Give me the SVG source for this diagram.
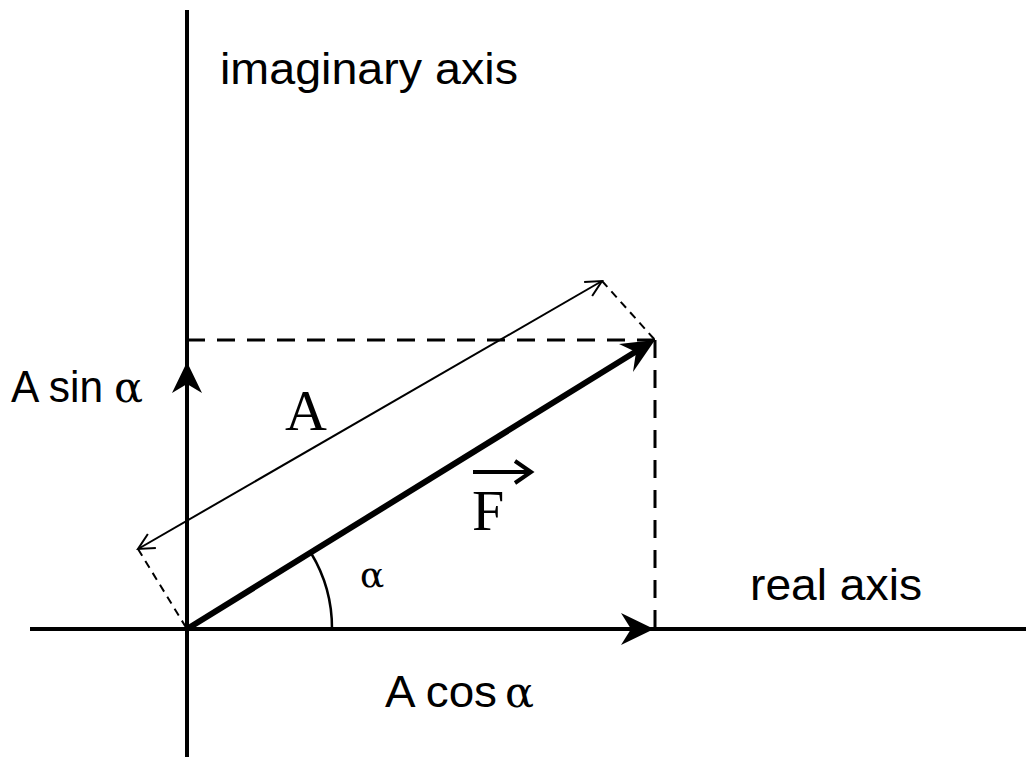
<svg xmlns="http://www.w3.org/2000/svg" width="1026" height="757" viewBox="0 0 1026 757">
<style>
.ax{stroke:#000;stroke-width:4;fill:none}
.dash{stroke:#000;stroke-width:3;stroke-dasharray:18,12;fill:none}
.thin{stroke:#000;stroke-width:2;fill:none}
.tdash{stroke:#000;stroke-width:2;stroke-dasharray:8,6;fill:none}
.sans{font-family:"Liberation Sans",Arial,sans-serif;font-size:45px;fill:#000}
.serif{font-family:"Liberation Serif","Times New Roman",serif;fill:#000}
.alpha{font-family:"DejaVu Serif",serif;fill:#000;font-size:43px}
</style>
<defs>
<marker id="open" viewBox="0 0 20 20" refX="18" refY="10" markerWidth="20" markerHeight="20" markerUnits="userSpaceOnUse" orient="auto-start-reverse">
<path d="M2,2 L18,10 L2,18" fill="none" stroke="#000" stroke-width="2"/>
</marker>
</defs>
<g id="axes">
<line class="ax" x1="187" y1="10" x2="187" y2="757"/>
<line class="ax" x1="30" y1="629" x2="1026" y2="629"/>
<path d="M187,362 L202,393 L187,384 L172,393 Z" fill="#000"/>
<path d="M654,629 L621,613 L631,629 L621,645 Z" fill="#000"/>
</g>
<g id="connectors">
<line class="dash" x1="187" y1="340" x2="655" y2="340"/>
<line class="dash" x1="655" y1="340" x2="655" y2="629"/>
<line class="tdash" x1="602" y1="281" x2="655" y2="340"/>
<line class="tdash" x1="138" y1="549" x2="187" y2="629"/>
<line class="thin" x1="138" y1="549" x2="602" y2="281" marker-start="url(#open)" marker-end="url(#open)"/>
<path d="M332,629 A145,145 0 0 0 311,553" class="thin" style="stroke-width:2.5"/>
</g>
<g id="vectorF">
<line x1="187" y1="629" x2="640" y2="349" stroke="#000" stroke-width="6"/>
<path d="M655,340 L619,344 L636,352 L633,372 Z" fill="#000"/>
</g>
<g id="labels">
<text class="sans" x="220" y="84" textLength="298" lengthAdjust="spacingAndGlyphs">imaginary axis</text>
<text class="sans" x="750" y="600" textLength="172" lengthAdjust="spacingAndGlyphs">real axis</text>
<text class="sans" x="11" y="402" textLength="92" lengthAdjust="spacingAndGlyphs">A sin</text>
<text class="alpha" x="114" y="402">α</text>
<text class="sans" x="385" y="707" textLength="112" lengthAdjust="spacingAndGlyphs">A cos</text>
<text class="alpha" x="505" y="707">α</text>
<text class="serif" x="285" y="430" font-size="58">A</text>
<text class="serif" x="472" y="530" font-size="58">F</text>
<path d="M473,472 L528,472 M515,461 L531,472 L515,483" fill="none" stroke="#000" stroke-width="4"/>
<text class="alpha" x="360" y="587" style="font-size:36px">α</text>
</g>
</svg>
